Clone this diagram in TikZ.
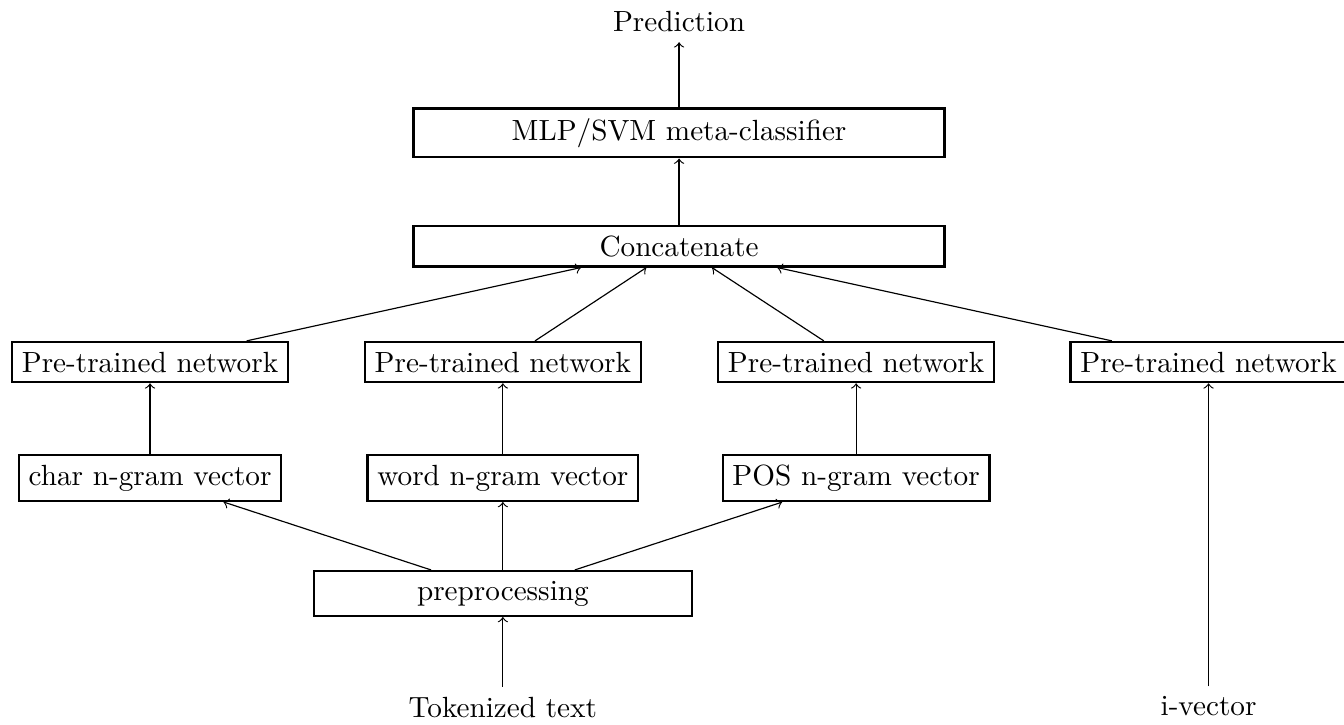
\documentclass[tikz,border=0pt]{standalone}
\usetikzlibrary{positioning}
\begin{document}
\begin{tikzpicture}[x=1cm,y=1cm,
  box/.style={draw, thick, rectangle},
  wide/.style={box, minimum width=6.39cm},
  arr/.style={->}]
\useasboundingbox (0,0) rectangle (16.17,-8.72);
\node (pred) at (8.17,-0.26) {Prediction};
\node[wide] (mlp) at (8.17,-1.60) {MLP/SVM meta-classifier};
\node[wide] (cat) at (8.17,-2.96) {Concatenate};
\node[box] (pt1) at (1.805,-4.356) {Pre-trained network};
\node[box] (pt2) at (6.05,-4.356) {Pre-trained network};
\node[box] (pt3) at (10.30,-4.356) {Pre-trained network};
\node[box] (pt4) at (14.54,-4.356) {Pre-trained network};
\node[box] (cv) at (1.805,-5.75) {char n-gram vector};
\node[box] (wv) at (6.05,-5.75) {word n-gram vector};
\node[box] (pv) at (10.30,-5.75) {POS n-gram vector};
\node[box, minimum width=4.55cm] (prep) at (6.05,-7.14) {preprocessing};
\node (tok) at (6.05,-8.51) {Tokenized text};
\node (ivec) at (14.54,-8.50) {i-vector};
\draw[arr] (mlp) -- (pred);
\draw[arr] (cat) -- (mlp);
\draw[arr] (pt1) -- (cat);
\draw[arr] (pt2) -- (cat);
\draw[arr] (pt3) -- (cat);
\draw[arr] (pt4) -- (cat);
\draw[arr] (cv) -- (pt1);
\draw[arr] (wv) -- (pt2);
\draw[arr] (pv) -- (pt3);
\draw[arr] (prep) -- (cv);
\draw[arr] (prep) -- (wv);
\draw[arr] (prep) -- (pv);
\draw[arr] (tok) -- (prep);
\draw[arr] (ivec) -- (pt4);
\end{tikzpicture}
\end{document}
